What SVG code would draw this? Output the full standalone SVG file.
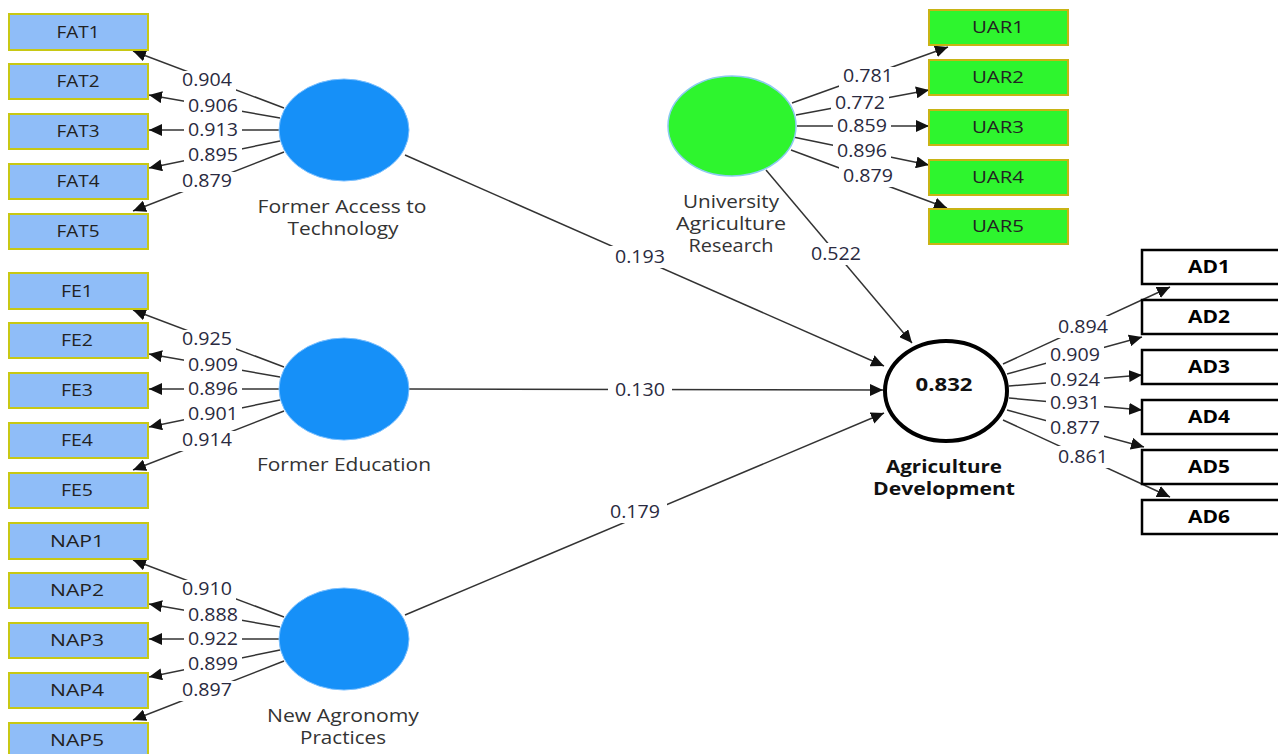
<svg xmlns="http://www.w3.org/2000/svg" width="1278" height="754" viewBox="0 0 1278 754">
<defs>
<marker id="ah" markerUnits="userSpaceOnUse" markerWidth="13" markerHeight="12" refX="13" refY="6" orient="auto"><path d="M0,0 L13,6 L0,12 z" fill="#111"/></marker>
<style>
.ln{stroke:#333;stroke-width:1.5;fill:none;marker-end:url(#ah)}
.lbg{fill:#fff;stroke:none}
.lb{font-family:"Open Sans","Noto Sans",sans-serif;font-size:18px;fill:#2a2a40;text-anchor:middle}
.bb{fill:#8fbdf8;stroke:#c8c814;stroke-width:2}
.gb{fill:#2ef52e;stroke:#c8b414;stroke-width:2}
.wb{fill:#fff;stroke:#000;stroke-width:2.5}
.bt{font-family:"Open Sans","Noto Sans",sans-serif;font-size:16px;fill:#222;text-anchor:middle}
.wt{font-family:"Open Sans","Noto Sans",sans-serif;font-size:17px;font-weight:bold;fill:#000;text-anchor:middle}
.nt{font-family:"Open Sans","Noto Sans",sans-serif;font-size:18px;fill:#333;text-anchor:middle}
.ntb{font-family:"Open Sans","Noto Sans",sans-serif;font-size:17px;font-weight:bold;fill:#111;text-anchor:middle}
.bc{fill:#1690f8;stroke:#7cc0ff;stroke-width:1}
.gc{fill:#2ef52e;stroke:#8ccaf0;stroke-width:1.5}
</style>
</defs>
<g id="connectors">
<path class="ln" d="M284,108 L133,51"/>
<path class="ln" d="M280,118 L149,95"/>
<path class="ln" d="M279,130 L149,130"/>
<path class="ln" d="M280,141 L149,168"/>
<path class="ln" d="M284,152 L133,211"/>
<path class="ln" d="M284,367 L133,310"/>
<path class="ln" d="M280,377 L149,354"/>
<path class="ln" d="M279,389 L149,389"/>
<path class="ln" d="M280,400 L149,427"/>
<path class="ln" d="M284,411 L133,470"/>
<path class="ln" d="M284,617 L133,560"/>
<path class="ln" d="M280,627 L149,604"/>
<path class="ln" d="M279,639 L149,639"/>
<path class="ln" d="M280,650 L149,677"/>
<path class="ln" d="M284,661 L133,720"/>
<path class="ln" d="M792,103 L948,47"/>
<path class="ln" d="M796,115 L929,90"/>
<path class="ln" d="M797,126 L929,126"/>
<path class="ln" d="M793,137 L929,165"/>
<path class="ln" d="M791,150 L947,208"/>
<path class="ln" d="M1003,364 L1170,287"/>
<path class="ln" d="M1007,374 L1142,337"/>
<path class="ln" d="M1009,386 L1142,375"/>
<path class="ln" d="M1009,398 L1142,410"/>
<path class="ln" d="M1007,410 L1144,447"/>
<path class="ln" d="M1003,420 L1170,497"/>
<path class="ln" d="M405,155 L884,366"/>
<path class="ln" d="M409,389 L883,390"/>
<path class="ln" d="M405,615 L884,413"/>
<path class="ln" d="M766,170 L912,343"/>
<g id="labelbg">
<rect class="lbg" x="178" y="71" width="58" height="20"/>
<rect class="lbg" x="184" y="97" width="58" height="20"/>
<rect class="lbg" x="184" y="121" width="58" height="20"/>
<rect class="lbg" x="184" y="146" width="58" height="20"/>
<rect class="lbg" x="178" y="172" width="58" height="20"/>
<rect class="lbg" x="178" y="330" width="58" height="20"/>
<rect class="lbg" x="184" y="356" width="58" height="20"/>
<rect class="lbg" x="184" y="380" width="58" height="20"/>
<rect class="lbg" x="184" y="405" width="58" height="20"/>
<rect class="lbg" x="178" y="431" width="58" height="20"/>
<rect class="lbg" x="178" y="580" width="58" height="20"/>
<rect class="lbg" x="184" y="606" width="58" height="20"/>
<rect class="lbg" x="184" y="630" width="58" height="20"/>
<rect class="lbg" x="184" y="655" width="58" height="20"/>
<rect class="lbg" x="178" y="681" width="58" height="20"/>
<rect class="lbg" x="839" y="67" width="58" height="20"/>
<rect class="lbg" x="831" y="94" width="58" height="20"/>
<rect class="lbg" x="833" y="117" width="58" height="20"/>
<rect class="lbg" x="833" y="142" width="58" height="20"/>
<rect class="lbg" x="839" y="167" width="58" height="20"/>
<rect class="lbg" x="1052" y="316" width="62" height="22"/>
<rect class="lbg" x="1046" y="346" width="58" height="20"/>
<rect class="lbg" x="1046" y="371" width="58" height="20"/>
<rect class="lbg" x="1046" y="394" width="58" height="20"/>
<rect class="lbg" x="1046" y="419" width="58" height="20"/>
<rect class="lbg" x="1052" y="446" width="62" height="22"/>
<rect class="lbg" x="608" y="246" width="64" height="22"/>
<rect class="lbg" x="608" y="379" width="64" height="22"/>
<rect class="lbg" x="603" y="501" width="64" height="22"/>
<rect class="lbg" x="805" y="243" width="62" height="22"/>
</g>
<text class="lb" x="207" y="86" textLength="50" lengthAdjust="spacingAndGlyphs">0.904</text>
<text class="lb" x="213" y="112" textLength="50" lengthAdjust="spacingAndGlyphs">0.906</text>
<text class="lb" x="213" y="136" textLength="50" lengthAdjust="spacingAndGlyphs">0.913</text>
<text class="lb" x="213" y="161" textLength="50" lengthAdjust="spacingAndGlyphs">0.895</text>
<text class="lb" x="207" y="187" textLength="50" lengthAdjust="spacingAndGlyphs">0.879</text>
<text class="lb" x="207" y="345" textLength="50" lengthAdjust="spacingAndGlyphs">0.925</text>
<text class="lb" x="213" y="371" textLength="50" lengthAdjust="spacingAndGlyphs">0.909</text>
<text class="lb" x="213" y="395" textLength="50" lengthAdjust="spacingAndGlyphs">0.896</text>
<text class="lb" x="213" y="420" textLength="50" lengthAdjust="spacingAndGlyphs">0.901</text>
<text class="lb" x="207" y="446" textLength="50" lengthAdjust="spacingAndGlyphs">0.914</text>
<text class="lb" x="207" y="595" textLength="50" lengthAdjust="spacingAndGlyphs">0.910</text>
<text class="lb" x="213" y="621" textLength="50" lengthAdjust="spacingAndGlyphs">0.888</text>
<text class="lb" x="213" y="645" textLength="50" lengthAdjust="spacingAndGlyphs">0.922</text>
<text class="lb" x="213" y="670" textLength="50" lengthAdjust="spacingAndGlyphs">0.899</text>
<text class="lb" x="207" y="696" textLength="50" lengthAdjust="spacingAndGlyphs">0.897</text>
<text class="lb" x="868" y="82" textLength="50" lengthAdjust="spacingAndGlyphs">0.781</text>
<text class="lb" x="860" y="109" textLength="50" lengthAdjust="spacingAndGlyphs">0.772</text>
<text class="lb" x="862" y="132" textLength="50" lengthAdjust="spacingAndGlyphs">0.859</text>
<text class="lb" x="862" y="157" textLength="50" lengthAdjust="spacingAndGlyphs">0.896</text>
<text class="lb" x="868" y="182" textLength="50" lengthAdjust="spacingAndGlyphs">0.879</text>
<text class="lb" x="1083" y="333" textLength="50" lengthAdjust="spacingAndGlyphs">0.894</text>
<text class="lb" x="1075" y="361" textLength="50" lengthAdjust="spacingAndGlyphs">0.909</text>
<text class="lb" x="1075" y="386" textLength="50" lengthAdjust="spacingAndGlyphs">0.924</text>
<text class="lb" x="1075" y="409" textLength="50" lengthAdjust="spacingAndGlyphs">0.931</text>
<text class="lb" x="1075" y="434" textLength="50" lengthAdjust="spacingAndGlyphs">0.877</text>
<text class="lb" x="1083" y="463" textLength="50" lengthAdjust="spacingAndGlyphs">0.861</text>
<text class="lb" x="640" y="263" textLength="50" lengthAdjust="spacingAndGlyphs">0.193</text>
<text class="lb" x="640" y="396" textLength="50" lengthAdjust="spacingAndGlyphs">0.130</text>
<text class="lb" x="635" y="518" textLength="50" lengthAdjust="spacingAndGlyphs">0.179</text>
<text class="lb" x="836" y="260" textLength="50" lengthAdjust="spacingAndGlyphs">0.522</text>
</g>
<g id="FAT1"><rect class="bb" x="9" y="14" width="139" height="36"/><text class="bt" x="78" y="38" textLength="43" lengthAdjust="spacingAndGlyphs">FAT1</text></g>
<g id="FAT2"><rect class="bb" x="9" y="64" width="139" height="35"/><text class="bt" x="78" y="87" textLength="43" lengthAdjust="spacingAndGlyphs">FAT2</text></g>
<g id="FAT3"><rect class="bb" x="9" y="114" width="139" height="35"/><text class="bt" x="78" y="137" textLength="43" lengthAdjust="spacingAndGlyphs">FAT3</text></g>
<g id="FAT4"><rect class="bb" x="9" y="164" width="139" height="35"/><text class="bt" x="78" y="187" textLength="43" lengthAdjust="spacingAndGlyphs">FAT4</text></g>
<g id="FAT5"><rect class="bb" x="9" y="214" width="139" height="35"/><text class="bt" x="78" y="237" textLength="43" lengthAdjust="spacingAndGlyphs">FAT5</text></g>
<g id="FE1"><rect class="bb" x="9" y="273" width="139" height="36"/><text class="bt" x="77" y="297" textLength="32" lengthAdjust="spacingAndGlyphs">FE1</text></g>
<g id="FE2"><rect class="bb" x="9" y="323" width="139" height="35"/><text class="bt" x="77" y="346" textLength="32" lengthAdjust="spacingAndGlyphs">FE2</text></g>
<g id="FE3"><rect class="bb" x="9" y="373" width="139" height="35"/><text class="bt" x="77" y="396" textLength="32" lengthAdjust="spacingAndGlyphs">FE3</text></g>
<g id="FE4"><rect class="bb" x="9" y="423" width="139" height="35"/><text class="bt" x="77" y="446" textLength="32" lengthAdjust="spacingAndGlyphs">FE4</text></g>
<g id="FE5"><rect class="bb" x="9" y="473" width="139" height="35"/><text class="bt" x="77" y="496" textLength="32" lengthAdjust="spacingAndGlyphs">FE5</text></g>
<g id="NAP1"><rect class="bb" x="9" y="523" width="139" height="36"/><text class="bt" x="77" y="547" textLength="54" lengthAdjust="spacingAndGlyphs">NAP1</text></g>
<g id="NAP2"><rect class="bb" x="9" y="573" width="139" height="35"/><text class="bt" x="77" y="596" textLength="54" lengthAdjust="spacingAndGlyphs">NAP2</text></g>
<g id="NAP3"><rect class="bb" x="9" y="623" width="139" height="35"/><text class="bt" x="77" y="646" textLength="54" lengthAdjust="spacingAndGlyphs">NAP3</text></g>
<g id="NAP4"><rect class="bb" x="9" y="673" width="139" height="35"/><text class="bt" x="77" y="696" textLength="54" lengthAdjust="spacingAndGlyphs">NAP4</text></g>
<g id="NAP5"><rect class="bb" x="9" y="723" width="139" height="35"/><text class="bt" x="77" y="746" textLength="54" lengthAdjust="spacingAndGlyphs">NAP5</text></g>
<g id="UAR1"><rect class="gb" x="929" y="10" width="139" height="35"/><text class="bt" x="998" y="33" textLength="52" lengthAdjust="spacingAndGlyphs">UAR1</text></g>
<g id="UAR2"><rect class="gb" x="929" y="60" width="139" height="35"/><text class="bt" x="998" y="83" textLength="52" lengthAdjust="spacingAndGlyphs">UAR2</text></g>
<g id="UAR3"><rect class="gb" x="929" y="110" width="139" height="35"/><text class="bt" x="998" y="133" textLength="52" lengthAdjust="spacingAndGlyphs">UAR3</text></g>
<g id="UAR4"><rect class="gb" x="929" y="160" width="139" height="35"/><text class="bt" x="998" y="183" textLength="52" lengthAdjust="spacingAndGlyphs">UAR4</text></g>
<g id="UAR5"><rect class="gb" x="929" y="209" width="139" height="35"/><text class="bt" x="998" y="232" textLength="52" lengthAdjust="spacingAndGlyphs">UAR5</text></g>
<g id="AD1"><rect class="wb" x="1142" y="250" width="140" height="34"/><text class="wt" x="1209" y="273" textLength="42" lengthAdjust="spacingAndGlyphs">AD1</text></g>
<g id="AD2"><rect class="wb" x="1142" y="300" width="140" height="34"/><text class="wt" x="1209" y="323" textLength="42" lengthAdjust="spacingAndGlyphs">AD2</text></g>
<g id="AD3"><rect class="wb" x="1142" y="350" width="140" height="34"/><text class="wt" x="1209" y="373" textLength="42" lengthAdjust="spacingAndGlyphs">AD3</text></g>
<g id="AD4"><rect class="wb" x="1142" y="400" width="140" height="34"/><text class="wt" x="1209" y="423" textLength="42" lengthAdjust="spacingAndGlyphs">AD4</text></g>
<g id="AD5"><rect class="wb" x="1142" y="450" width="140" height="34"/><text class="wt" x="1209" y="473" textLength="42" lengthAdjust="spacingAndGlyphs">AD5</text></g>
<g id="AD6"><rect class="wb" x="1142" y="500" width="140" height="34"/><text class="wt" x="1209" y="523" textLength="42" lengthAdjust="spacingAndGlyphs">AD6</text></g>
<g id="FormerAccessToTechnology"><ellipse class="bc" cx="344" cy="130" rx="65" ry="51"/><text class="nt" x="342" y="213" textLength="169" lengthAdjust="spacingAndGlyphs">Former Access to</text><text class="nt" x="343" y="235" textLength="111" lengthAdjust="spacingAndGlyphs">Technology</text></g>
<g id="FormerEducation"><ellipse class="bc" cx="344" cy="389" rx="65" ry="51"/><text class="nt" x="344" y="471" textLength="174" lengthAdjust="spacingAndGlyphs">Former Education</text></g>
<g id="NewAgronomyPractices"><ellipse class="bc" cx="344" cy="639" rx="65" ry="51"/><text class="nt" x="343" y="722" textLength="152" lengthAdjust="spacingAndGlyphs">New Agronomy</text><text class="nt" x="343" y="744" textLength="86" lengthAdjust="spacingAndGlyphs">Practices</text></g>
<g id="UniversityAgricultureResearch"><ellipse class="gc" cx="732" cy="126" rx="64" ry="50"/><text class="nt" x="731" y="208" textLength="96" lengthAdjust="spacingAndGlyphs">University</text><text class="nt" x="731" y="230" textLength="110" lengthAdjust="spacingAndGlyphs">Agriculture</text><text class="nt" x="731" y="252" textLength="85" lengthAdjust="spacingAndGlyphs">Research</text></g>
<g id="AgricultureDevelopment"><ellipse cx="946" cy="391" rx="61" ry="50" fill="#fff" stroke="#000" stroke-width="4"/><text class="ntb" x="944" y="391" textLength="57" lengthAdjust="spacingAndGlyphs">0.832</text><text class="ntb" x="944" y="473" textLength="116" lengthAdjust="spacingAndGlyphs">Agriculture</text><text class="ntb" x="944" y="495" textLength="142" lengthAdjust="spacingAndGlyphs">Development</text></g>
</svg>
